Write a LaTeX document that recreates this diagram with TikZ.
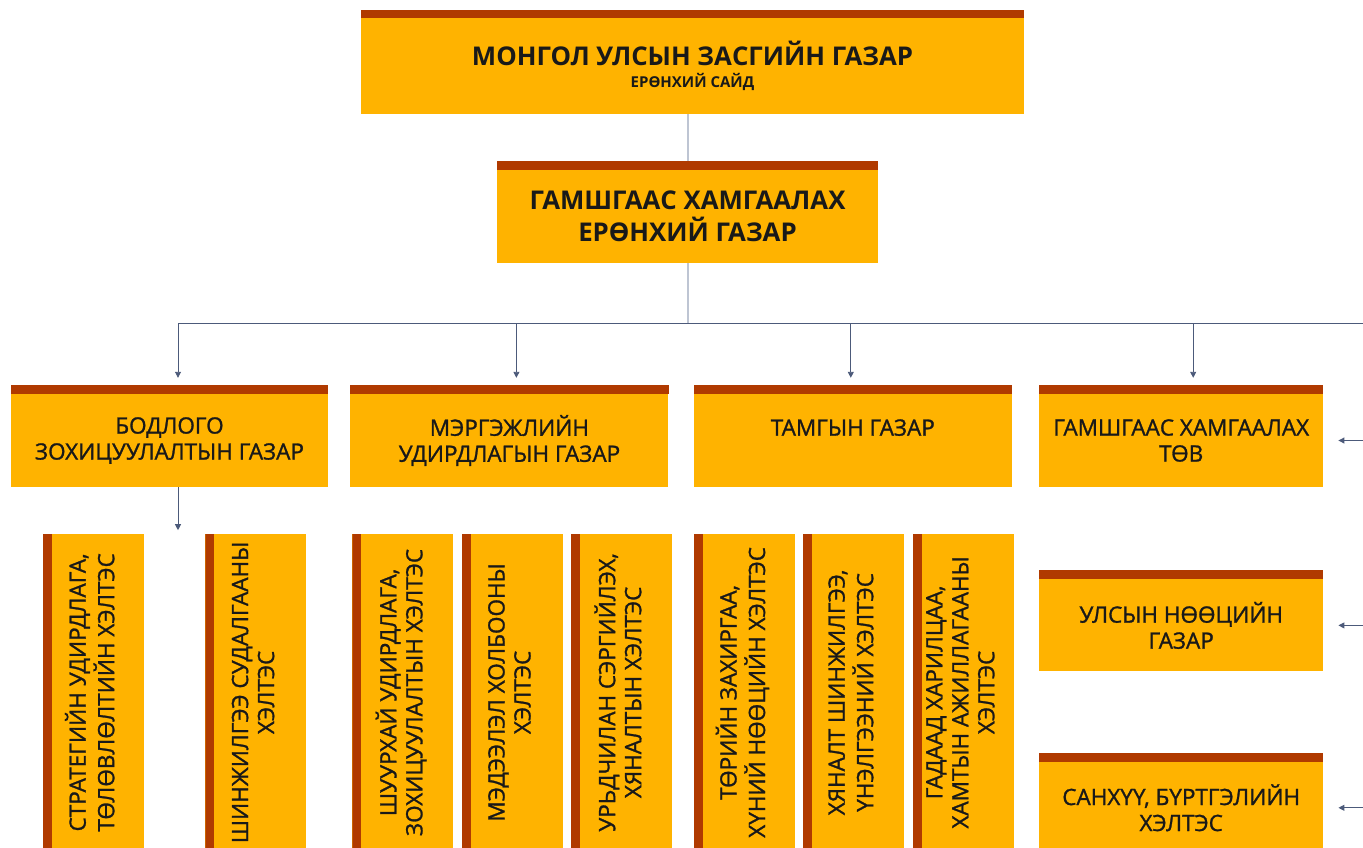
\documentclass[tikz,border=0pt]{standalone}
\usepackage{fontspec}
\usepackage{graphicx}
\setmainfont{Open Sans}
\newfontfamily\midfont[FakeBold=1.2]{Open Sans}
\usetikzlibrary{positioning,arrows.meta}
\definecolor{amber}{HTML}{FFB300}
\definecolor{rust}{HTML}{B03A00}
\definecolor{slate}{HTML}{4C5A7A}
\definecolor{haze}{HTML}{BEC5D3}
\newcommand{\uptext}[1]{\rotatebox{90}{\begin{tabular}{@{}c@{}}#1\end{tabular}}}

\begin{document}
\begin{tikzpicture}[x=1pt, y=-1pt,
box/.style={rectangle, fill=amber, inner sep=0pt, align=center, text=black!90, minimum height=93pt, font=\midfont\fontsize{22.5}{26}\selectfont},
headbox/.style={box, font=\bfseries\fontsize{25.8}{32}\selectfont},
slab/.style={rectangle, fill=amber, inner sep=0pt, text=black!90, minimum width=101pt, minimum height=316pt, font=\midfont\fontsize{22.5}{26}\selectfont,
  path picture={\fill[rust] (path picture bounding box.north west) rectangle ([xshift=9pt]path picture bounding box.south west);}},
link/.style={haze, line width=2pt},
wire/.style={slate, line width=0.9pt},
arr/.style={wire, -{Triangle[length=6pt, width=6pt]}},
]
\useasboundingbox (0,0) rectangle (1363,847);
%Nodes
\node[headbox, minimum width=663pt, minimum height=96pt] (gov) at (692.5,66) {МОНГОЛ УЛСЫН ЗАСГИЙН ГАЗАР\\[-10pt]{\fontsize{15}{16}\selectfont ЕРӨНХИЙ САЙД}};
\node[headbox, minimum width=381pt] (gaz) at (687.5,216.5) {ГАМШГААС ХАМГААЛАХ\\ЕРӨНХИЙ ГАЗАР};

\node[box, minimum width=317pt] (pol) at (169.5,440.5) {БОДЛОГО\\ЗОХИЦУУЛАЛТЫН ГАЗАР};
\node[box, minimum width=318pt] (mer) [right=22pt of pol] {МЭРГЭЖЛИЙН\\УДИРДЛАГЫН ГАЗАР};
\node[box, minimum width=318pt] (tam) [right=25pt of mer] {ТАМГЫН ГАЗАР\\\mbox{}};
\node[box, minimum width=284pt] (tov) [right=27pt of tam] {ГАМШГААС ХАМГААЛАХ\\ТӨВ};
\node[box, minimum width=284pt, minimum height=92pt] (noo) [below=92pt of tov] {УЛСЫН НӨӨЦИЙН\\ГАЗАР};
\node[box, minimum width=284pt, minimum height=92pt] (san) [below=90pt of noo] {САНХҮҮ, БҮРТГЭЛИЙН\\ХЭЛТЭС};

\node[slab] (str) [below right=47pt and 32pt of pol.south west] {\uptext{СТРАТЕГИЙН УДИРДЛАГА,\\ТӨЛӨВЛӨЛТИЙН ХЭЛТЭС}};
\node[slab] (shi) [right=61pt of str] {\uptext{ШИНЖИЛГЭЭ СУДАЛГААНЫ\\ХЭЛТЭС}};
\node[slab] (shu) [below right=47pt and 2pt of mer.south west] {\uptext{ШУУРХАЙ УДИРДЛАГА,\\ЗОХИЦУУЛАЛТЫН ХЭЛТЭС}};
\node[slab] (med) [right=8pt of shu] {\uptext{МЭДЭЭЛЭЛ ХОЛБООНЫ\\ХЭЛТЭС}};
\node[slab] (urd) [right=8pt of med] {\uptext{УРЬДЧИЛАН СЭРГИЙЛЭХ,\\ХЯНАЛТЫН ХЭЛТЭС}};
\node[slab] (tor) [below right=47pt and 0pt of tam.south west] {\uptext{ТӨРИЙН ЗАХИРГАА,\\ХҮНИЙ НӨӨЦИЙН ХЭЛТЭС}};
\node[slab] (hya) [right=8pt of tor] {\uptext{ХЯНАЛТ ШИНЖИЛГЭЭ,\\ҮНЭЛГЭЭНИЙ ХЭЛТЭС}};
\node[slab] (gad) [right=8pt of hya] {\uptext{ГАДААД ХАРИЛЦАА,\\ХАМТЫН АЖИЛЛАГААНЫ\\ХЭЛТЭС}};

\coordinate (bus) at (0,323);
\coordinate (rim) at (1363,0);

%Lines
\draw[link] (gaz.north) -- (gaz.north |- gov.south);
\draw[link] (gaz.south) -- (gaz.south |- bus);
\draw[wire] ([xshift=8.5pt]pol.north |- bus) -- (rim |- bus);
\foreach \n/\dx in {pol/8.5,mer/7,tam/-2,tov/12}
  \draw[arr, shorten >=16pt] ([xshift=\dx pt]\n.north |- bus) -- ([xshift=\dx pt]\n.north);
\draw[arr, shorten >=4pt] ([xshift=8.5pt]pol.south) -- ([xshift=8.5pt]pol.south |- str.north);
\foreach \n in {tov,noo,san}
  \draw[arr, shorten >=15pt] (rim |- \n.east) -- (\n.east);

%Bands
\fill[rust] (gov.north west) rectangle ([yshift=8pt]gov.north east);
\foreach \n in {gaz,pol,mer,tam,tov,noo,san}
  \fill[rust] (\n.north west) rectangle ([yshift=9pt]\n.north east);
\end{tikzpicture}
\end{document}
